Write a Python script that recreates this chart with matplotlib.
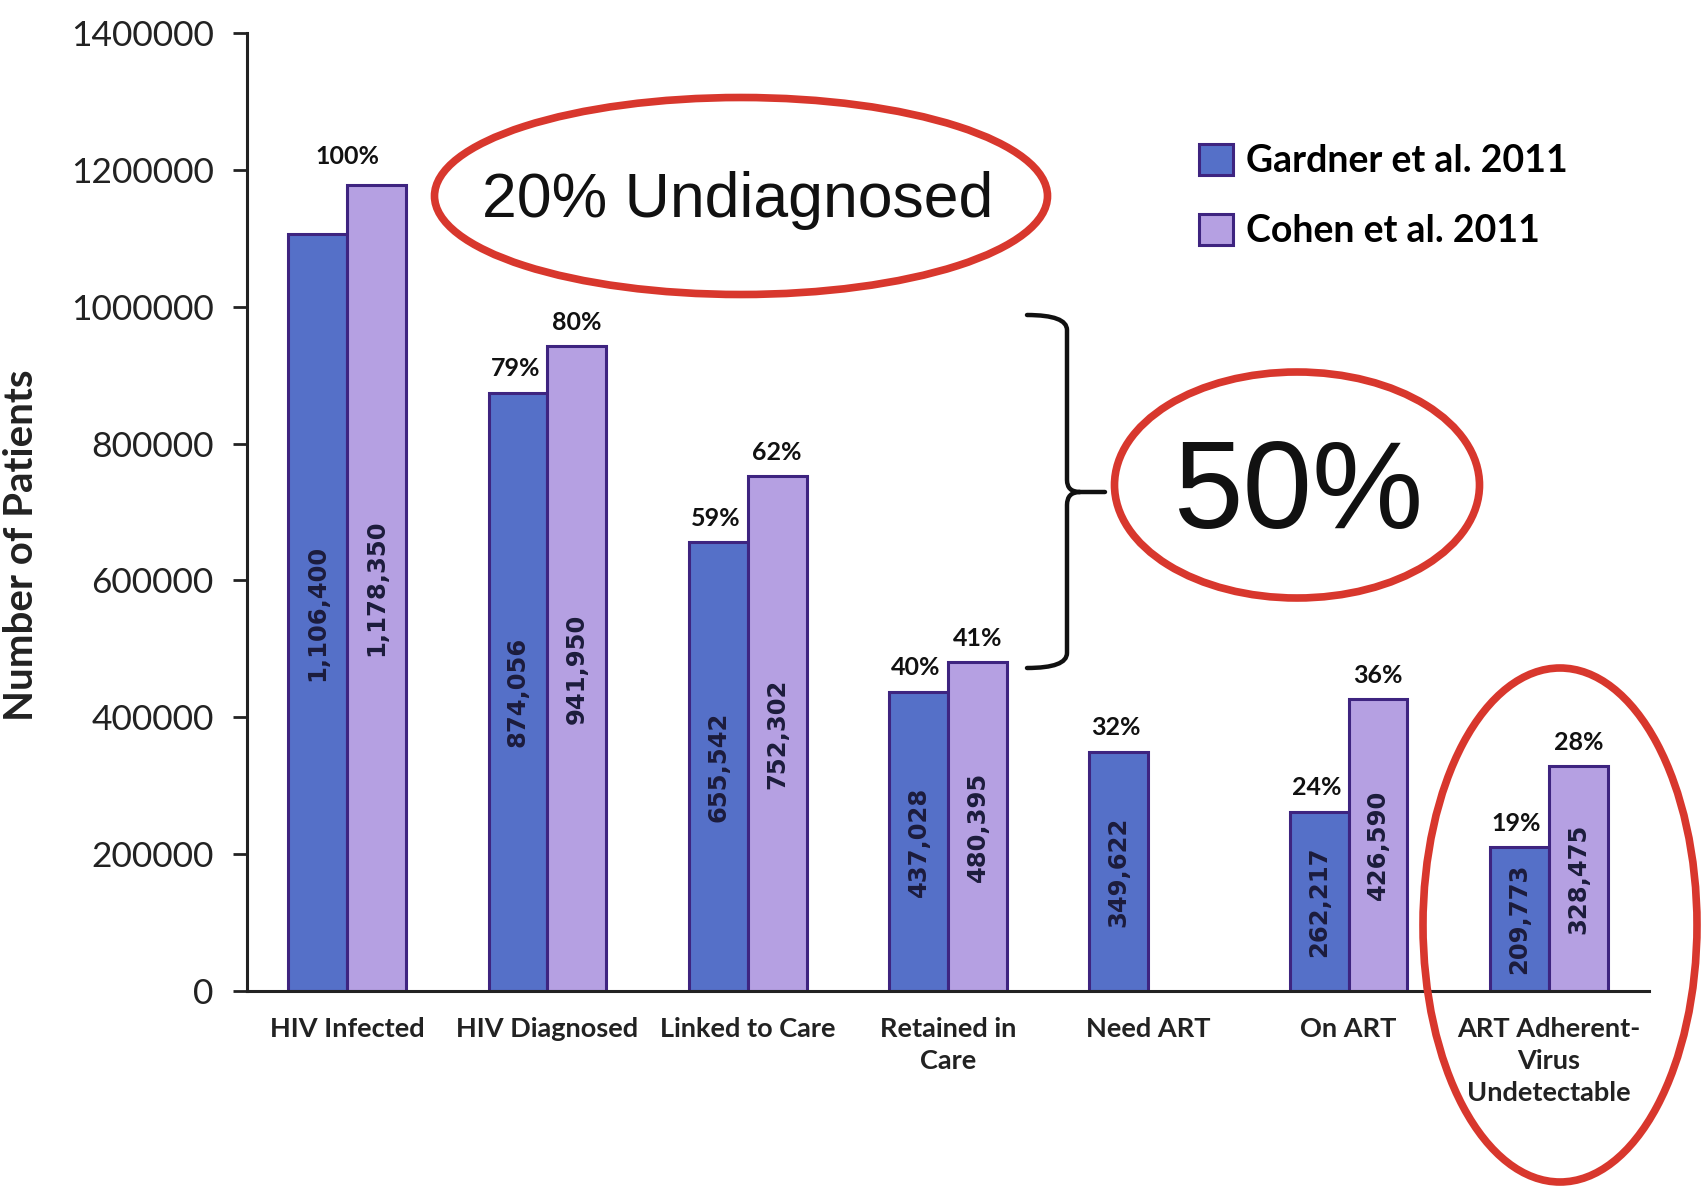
import numpy as np
import matplotlib
matplotlib.use('Agg')
import matplotlib.pyplot as plt
from matplotlib.patches import Ellipse, PathPatch
from matplotlib.path import Path

# data
stages = ['HIV Infected', 'HIV Diagnosed', 'Linked to Care', 'Retained in\nCare',
          'Need ART', 'On ART', 'ART Adherent-\nVirus\nUndetectable']
gardner = [1106400, 874056, 655542, 437028, 349622, 262217, 209773]
cohen = [1178350, 941950, 752302, 480395, np.nan, 426590, 328475]
gardner_pct = ['', '79%', '59%', '40%', '32%', '24%', '19%']
cohen_pct = ['100%', '80%', '62%', '41%', '', '36%', '28%']
yticks = [0, 200000, 400000, 600000, 800000, 1000000, 1200000, 1400000]

blue = '#5570C8'
lilac = '#B5A0E2'
edge = '#3E2480'
red = '#D8372D'
navy = '#1c1c3c'

W, H = 1701, 1189
fig = plt.figure(figsize=(W / 100, H / 100), dpi=100)
ax = fig.add_axes([247 / W, 1 - 991 / H, (1649 - 247) / W, (991 - 33) / H])

x = np.arange(len(stages))
bw = 0.294
g_bars = ax.bar(x - bw / 2, gardner, bw, color=blue, edgecolor=edge, linewidth=2.2,
                label='Gardner et al. 2011')
has_c = ~np.isnan(cohen)
c_bars = ax.bar(x[has_c] + bw / 2, np.array(cohen)[has_c], bw, color=lilac,
                edgecolor=edge, linewidth=2.2, label='Cohen et al. 2011')

# values written inside the bars
for xi, v in zip(x, gardner):
    ax.text(xi - bw / 2, v / 2, f'{v:,}', rotation=90, ha='center', va='center',
            fontsize=17.5, fontweight='bold', color=navy, family='DejaVu Sans')
for xi, v in zip(x, cohen):
    if np.isnan(v):
        continue
    ax.text(xi + bw / 2, v / 2, f'{int(v):,}', rotation=90, ha='center', va='center',
            fontsize=17.5, fontweight='bold', color=navy, family='DejaVu Sans')

# percentages on top
for xi, v, p in zip(x, gardner, gardner_pct):
    if p:
        ax.annotate(p, (xi - bw / 2, v), xytext=(-2, 9), textcoords='offset points',
                    ha='center', va='bottom', fontsize=18, fontweight='bold',
                    family='Lato', color='#111')
for xi, v, p in zip(x, cohen, cohen_pct):
    if p:
        px = xi if p == '100%' else xi + bw / 2
        ax.annotate(p, (px, v), xytext=(0, 12 if p == '100%' else 9),
                    textcoords='offset points', ha='center', va='bottom',
                    fontsize=18, fontweight='bold', family='Lato', color='#111')

ax.set_xlim(-0.5, 6.5)
ax.set_ylim(0, 1400000)
ax.set_yticks(yticks)
ax.set_yticklabels([str(t) for t in yticks], fontsize=25.5, family='Lato', color='#222')
ax.set_xticks(x)
ax.set_xticklabels(stages, fontsize=19.5, fontweight='bold', family='Lato',
                   linespacing=1.4, color='#222')
ax.tick_params(axis='x', length=0, pad=19)
ax.tick_params(axis='y', length=10, width=2, pad=14, color='#222')
for s in ['top', 'right']:
    ax.spines[s].set_visible(False)
for s in ['left', 'bottom']:
    ax.spines[s].set_linewidth(2.2)
    ax.spines[s].set_color('#222')

fig.text(22 / W, 1 - 545 / H, 'Number of Patients', rotation=90, ha='center',
         va='center', fontsize=29, fontweight='bold', family='Lato', color='#222')

ax.legend(loc='upper left', bbox_to_anchor=(1180 / W, 1 - 125 / H),
          bbox_transform=fig.transFigure, frameon=False, borderpad=0,
          handlelength=0.9, handleheight=0.9, handletextpad=0.35,
          labelspacing=0.95, prop={'family': 'Lato', 'weight': 'bold', 'size': 27})

# annotations drawn in pixel space on an overlay
ov = fig.add_axes([0, 0, 1, 1], zorder=5)
ov.set_xlim(0, W)
ov.set_ylim(H, 0)
ov.axis('off')
ov.patch.set_alpha(0)

ov.add_patch(Ellipse((741, 196), 613, 197, fill=False, ec=red, lw=5.5))
ov.text(738, 217, '20% Undiagnosed', ha='center', va='baseline', fontsize=45,
        family='Liberation Sans', color='#111')

ov.add_patch(Ellipse((1297, 485), 365, 226, fill=False, ec=red, lw=5.5))
ov.text(1298, 528, '50%', ha='center', va='baseline', fontsize=90,
        family='Liberation Sans', color='#111')

ov.add_patch(Ellipse((1560, 925), 274, 514, fill=False, ec=red, lw=5.5))

# bracket
verts = [(1027, 315), (1067, 315), (1067, 330), (1067, 480), (1067, 492), (1080, 492),
         (1105, 492), (1080, 492), (1067, 492), (1067, 505), (1067, 653),
         (1067, 668), (1027, 668)]
codes = [Path.MOVETO, Path.CURVE3, Path.CURVE3, Path.LINETO, Path.CURVE3, Path.CURVE3,
         Path.LINETO, Path.MOVETO, Path.CURVE3, Path.CURVE3, Path.LINETO,
         Path.CURVE3, Path.CURVE3]
ov.add_patch(PathPatch(Path(verts, codes), fill=False, ec='#111', lw=3.2,
                       capstyle='round', joinstyle='round'))

fig.savefig('out.png', dpi=100, facecolor='white')
